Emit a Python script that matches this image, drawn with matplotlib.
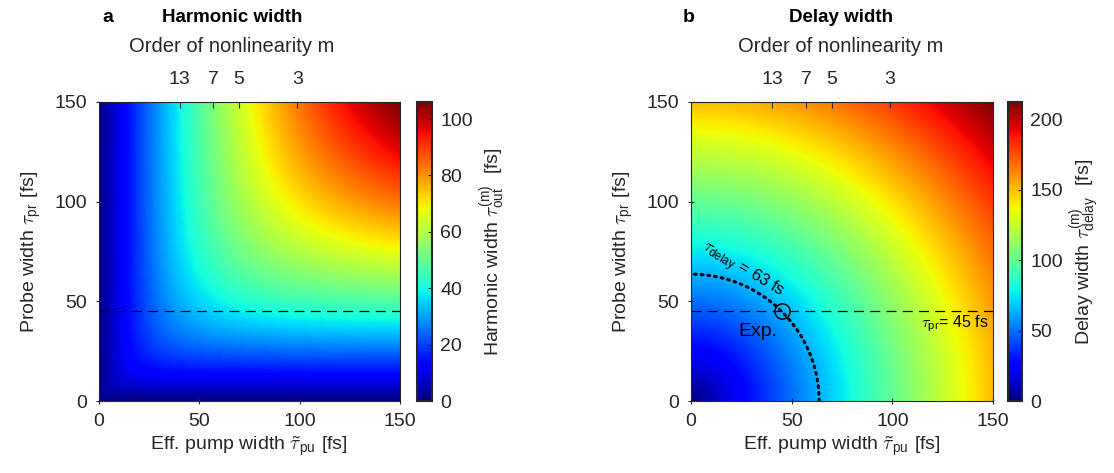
import numpy as np
import matplotlib
matplotlib.use("Agg")
import matplotlib.pyplot as plt

plt.rcParams['font.family'] = ['Liberation Sans', 'DejaVu Sans']
plt.rcParams['mathtext.fontset'] = 'custom'
plt.rcParams['mathtext.rm'] = 'Liberation Sans'
plt.rcParams['mathtext.it'] = 'cmmi10'
plt.rcParams['mathtext.bf'] = 'Liberation Sans:bold'
plt.rcParams['font.size'] = 14

TXT = '#262626'

# axis ranges (fs)
tau_pu = np.linspace(0, 150, 301)   # effective pump width
tau_pr = np.linspace(0, 150, 301)   # probe width

# top axis: order of nonlinearity m and the eff. pump width where it sits
m_orders = ['13', '7', '5', '3']
m_positions = [40.4, 57.2, 69.9, 98.9]

tau_pr_exp = 45      # experimental probe width
tau_pu_exp = 45
tau_delay_exp = 63

PU, PR = np.meshgrid(tau_pu, tau_pr)
# harmonic width: 1/tau_out^2 = 1/tau_pu^2 + 1/tau_pr^2
with np.errstate(divide='ignore', invalid='ignore'):
    harm = np.where((PU > 0) & (PR > 0), PU * PR / np.sqrt(PU**2 + PR**2), 0.0)
# delay width: tau_delay^2 = tau_pu^2 + tau_pr^2
delay = np.sqrt(PU**2 + PR**2)

W, H = 1114, 473
fig = plt.figure(figsize=(W / 100, H / 100), dpi=100)


def px(x0, y0, x1, y1):
    return [x0 / W, 1 - y1 / H, (x1 - x0) / W, (y1 - y0) / H]


panels = [
    dict(ax=px(98.5, 102, 400, 401), cb=px(417, 102, 432, 401), data=harm,
         vmax=harm.max(), cticks=[0, 20, 40, 60, 80, 100], letter='a', lx=108,
         title='Harmonic width', tx=232, cpad=3,
         clabel=r'Harmonic width $\tau_{\mathrm{out}}^{(\mathrm{m})}$  [fs]'),
    dict(ax=px(691, 102, 993, 401), cb=px(1008, 102, 1022, 401), data=delay,
         vmax=delay.max(), cticks=[0, 50, 100, 150, 200], letter='b', lx=689,
         title='Delay width', tx=841, cpad=3,
         clabel=r'Delay width $\tau_{\mathrm{delay}}^{(\mathrm{m})}$  [fs]'),
]

axes = []
for p in panels:
    ax = fig.add_axes(p['ax'])
    im = ax.pcolormesh(tau_pu, tau_pr, p['data'], cmap='jet', vmin=0,
                       vmax=p['vmax'], shading='gouraud', rasterized=True)
    ax.set_xlim(0, 150)
    ax.set_ylim(0, 150)
    ax.set_xticks([0, 50, 100, 150])
    ax.set_yticks([0, 50, 100, 150])
    ax.tick_params(direction='inout', length=5, color=TXT, labelcolor=TXT,
                   labelsize=14, pad=6)
    for s in ax.spines.values():
        s.set_color(TXT)
        s.set_linewidth(0.8)
    ax.set_xlabel(r'Eff. pump width $\tilde{\tau}_{\mathrm{pu}}$ [fs]', color=TXT,
                  fontsize=14, labelpad=4)
    ax.set_ylabel(r'Probe width $\tau_{\mathrm{pr}}$ [fs]', color=TXT, fontsize=14,
                  labelpad=8)
    ax.axhline(tau_pr_exp, color='k', lw=0.9, ls=(0, (8, 5)))

    top = ax.twiny()
    top.set_xlim(0, 150)
    top.set_xticks(m_positions)
    top.set_xticklabels(m_orders)
    top.tick_params(direction='in', length=4, color=TXT, labelcolor=TXT,
                    labelsize=14, pad=10)
    for s in top.spines.values():
        s.set_visible(False)

    cax = fig.add_axes(p['cb'])
    cb = fig.colorbar(im, cax=cax, ticks=p['cticks'])
    cb.outline.set_edgecolor(TXT)
    cb.outline.set_linewidth(1.5)
    cax.tick_params(direction='in', length=3, color=TXT, labelcolor=TXT,
                    labelsize=14, pad=6)
    cb.set_label(p['clabel'], color=TXT, fontsize=14, labelpad=p['cpad'])

    fig.text(p['lx'] / W, 1 - 17 / H, p['letter'], fontsize=14, fontweight='bold',
             ha='center', va='center', color='k')
    fig.text(p['tx'] / W, 1 - 17 / H, p['title'], fontsize=13.5, fontweight='bold',
             ha='center', va='center', color='k')
    fig.text(p['tx'] / W, 1 - 46 / H, 'Order of nonlinearity m', fontsize=14.5,
             ha='center', va='center', color=TXT)
    axes.append(ax)

axb = axes[1]
ang = np.linspace(0, np.pi / 2, 200)
r = np.hypot(tau_pu_exp, tau_pr_exp)
axb.plot(r * np.cos(ang), r * np.sin(ang), color='k', lw=2.2,
         ls=(0, (0.6, 1.6)), dash_capstyle='round')
axb.plot([tau_pu_exp], [tau_pr_exp], marker='o', ms=11, mfc='none', mec='k', mew=1.1)
axb.text(33, 35, 'Exp.', fontsize=14, ha='center', va='center', color='k')
axb.text(25.5, 65.5, r'$\tau_{\mathrm{delay}}$ = %d fs' % tau_delay_exp, fontsize=12,
         rotation=-31, ha='center', va='center', color='k', rotation_mode='anchor')
axb.text(148, 39, r'$\tau_{\mathrm{pr}}$= %d fs' % tau_pr_exp, fontsize=11.5,
         ha='right', va='center', color='k')

fig.savefig('out.png', dpi=100)
